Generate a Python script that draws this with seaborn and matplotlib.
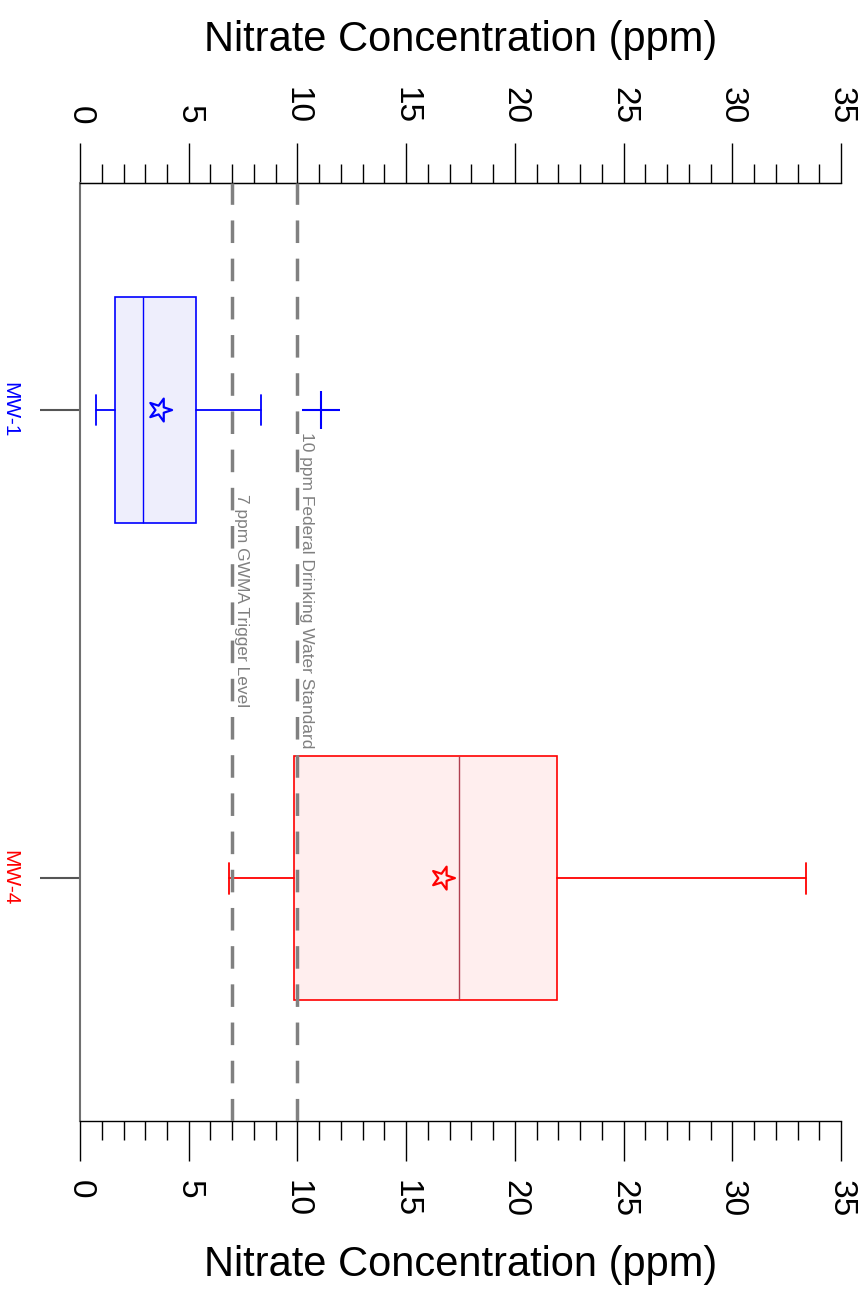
import numpy as np
import pandas as pd
import matplotlib
matplotlib.use("Agg")
import matplotlib.pyplot as plt
import seaborn as sns
from matplotlib.markers import MarkerStyle
from matplotlib.transforms import Affine2D
from matplotlib.ticker import MultipleLocator

# 数据（从图上读出的箱线图统计量）
wells = ["MW-1", "MW-4"]
well_colors = ["#0000FF", "#FF0000"]
box_faces = ["#EEEEFC", "#FFEEEE"]
median_colors = ["#0000FF", "#B04050"]
whisker_low = [0.74, 6.85]
q1 = [1.62, 9.86]
medians = [2.91, 17.45]
q3 = [5.35, 21.92]
whisker_high = [8.34, 33.37]
outliers = [[11.08], []]
means = [3.68, 16.69]
box_widths = [0.483, 0.52]

# 参考线
ref_values = [7, 10]
ref_labels = ["7 ppm GWMA Trigger Level", "10 ppm Federal Drinking Water Standard"]
ref_label_pos = [0.179, 0.047]

x_ticks = [0, 5, 10, 15, 20, 25, 30, 35]
x_title = "Nitrate Concentration (ppm)"

sns.set_style("ticks")
plt.rcParams["font.family"] = ["Liberation Sans", "DejaVu Sans"]
plt.rcParams["text.color"] = "black"
plt.rcParams["axes.labelcolor"] = "black"
plt.rcParams["xtick.color"] = "black"
plt.rcParams["ytick.color"] = "black"

fig = plt.figure(figsize=(8.67, 12.99), dpi=100)
ax = fig.add_axes([0.0923, 0.137, 0.8777, 0.7221])

# 箱线图
for i, w in enumerate(wells):
    c = well_colors[i]
    stats = [dict(label=w, whislo=whisker_low[i], q1=q1[i], med=medians[i],
                  q3=q3[i], whishi=whisker_high[i], fliers=outliers[i])]
    ax.bxp(stats, positions=[i], widths=[box_widths[i]], capwidths=[0.066],
           orientation="horizontal", patch_artist=True,
           boxprops=dict(facecolor=box_faces[i], edgecolor=c, linewidth=1.2),
           medianprops=dict(color=median_colors[i], linewidth=1.0),
           whiskerprops=dict(color=c, linewidth=1.3),
           capprops=dict(color=c, linewidth=1.3),
           flierprops=dict(marker="+", markersize=28, markeredgecolor=c,
                           markeredgewidth=1.5, linestyle="none"),
           showmeans=False, zorder=2)

# 均值（星号）
star = MarkerStyle("*", transform=Affine2D().rotate_deg(-90))
df_mean = pd.DataFrame({"mean": means, "pos": [0, 1], "well": wells})
for i, w in enumerate(wells):
    sub = df_mean[df_mean["well"] == w]
    sns.scatterplot(data=sub, x="mean", y="pos", marker=star, s=300,
                    facecolors="none", edgecolor=well_colors[i],
                    linewidth=1.6, ax=ax, zorder=4, legend=False)

# 参考虚线
for v, lab, yp in zip(ref_values, ref_labels, ref_label_pos):
    ax.axvline(v, color="#808080", linewidth=2.5, linestyle=(0, (6.5, 4.5)),
               zorder=3)
    ax.text(v + 0.07, yp, lab, rotation=270, rotation_mode="anchor",
            ha="left", va="bottom", fontsize=12.5, color="#808080", zorder=5)

# 坐标轴
ax.set_xlim(0, 35)
ax.set_ylim(1.519, -0.485)
ax.set_xticks(x_ticks)
ax.set_xticklabels([str(t) for t in x_ticks], rotation=-90, fontsize=24)
ax.xaxis.set_minor_locator(MultipleLocator(1))
ax.tick_params(axis="x", which="major", length=28.5, width=1, color="black",
               pad=14, bottom=True, labelbottom=True, direction="out",
               labelcolor="black")
ax.tick_params(axis="x", which="minor", length=14, width=1, color="black",
               bottom=True, direction="out")
ax.tick_params(axis="x", top=False, labeltop=False, which="both")
ax.set_xlabel(x_title, fontsize=30, labelpad=20, color="black")
ax.set_ylabel("")

ax.set_yticks([0, 1])
ax.set_yticklabels(wells, rotation=-90, fontsize=15, va="center")
for lbl, c in zip(ax.get_yticklabels(), well_colors):
    lbl.set_color(c)
ax.tick_params(axis="y", which="major", length=29, width=1.5, color="#555555",
               pad=15, left=True, right=False)

# 顶部坐标轴
top = ax.secondary_xaxis("top")
top.set_xticks(x_ticks)
top.set_xticklabels([str(t) for t in x_ticks], rotation=-90, fontsize=24)
top.xaxis.set_minor_locator(MultipleLocator(1))
top.tick_params(axis="x", which="major", length=28.5, width=1, pad=14,
                color="black", labelcolor="black")
top.tick_params(axis="x", which="minor", length=14, width=1, color="black")
top.set_xlabel(x_title, fontsize=30, labelpad=26, color="black")
top.spines["top"].set_color("black")

ax.spines["right"].set_visible(False)
ax.spines["left"].set_color("#707070")
ax.spines["left"].set_linewidth(1.5)
ax.spines["top"].set_color("black")
ax.spines["bottom"].set_color("black")
ax.spines["top"].set_linewidth(1)
ax.spines["bottom"].set_linewidth(1)

fig.savefig("out.png", dpi=100)
